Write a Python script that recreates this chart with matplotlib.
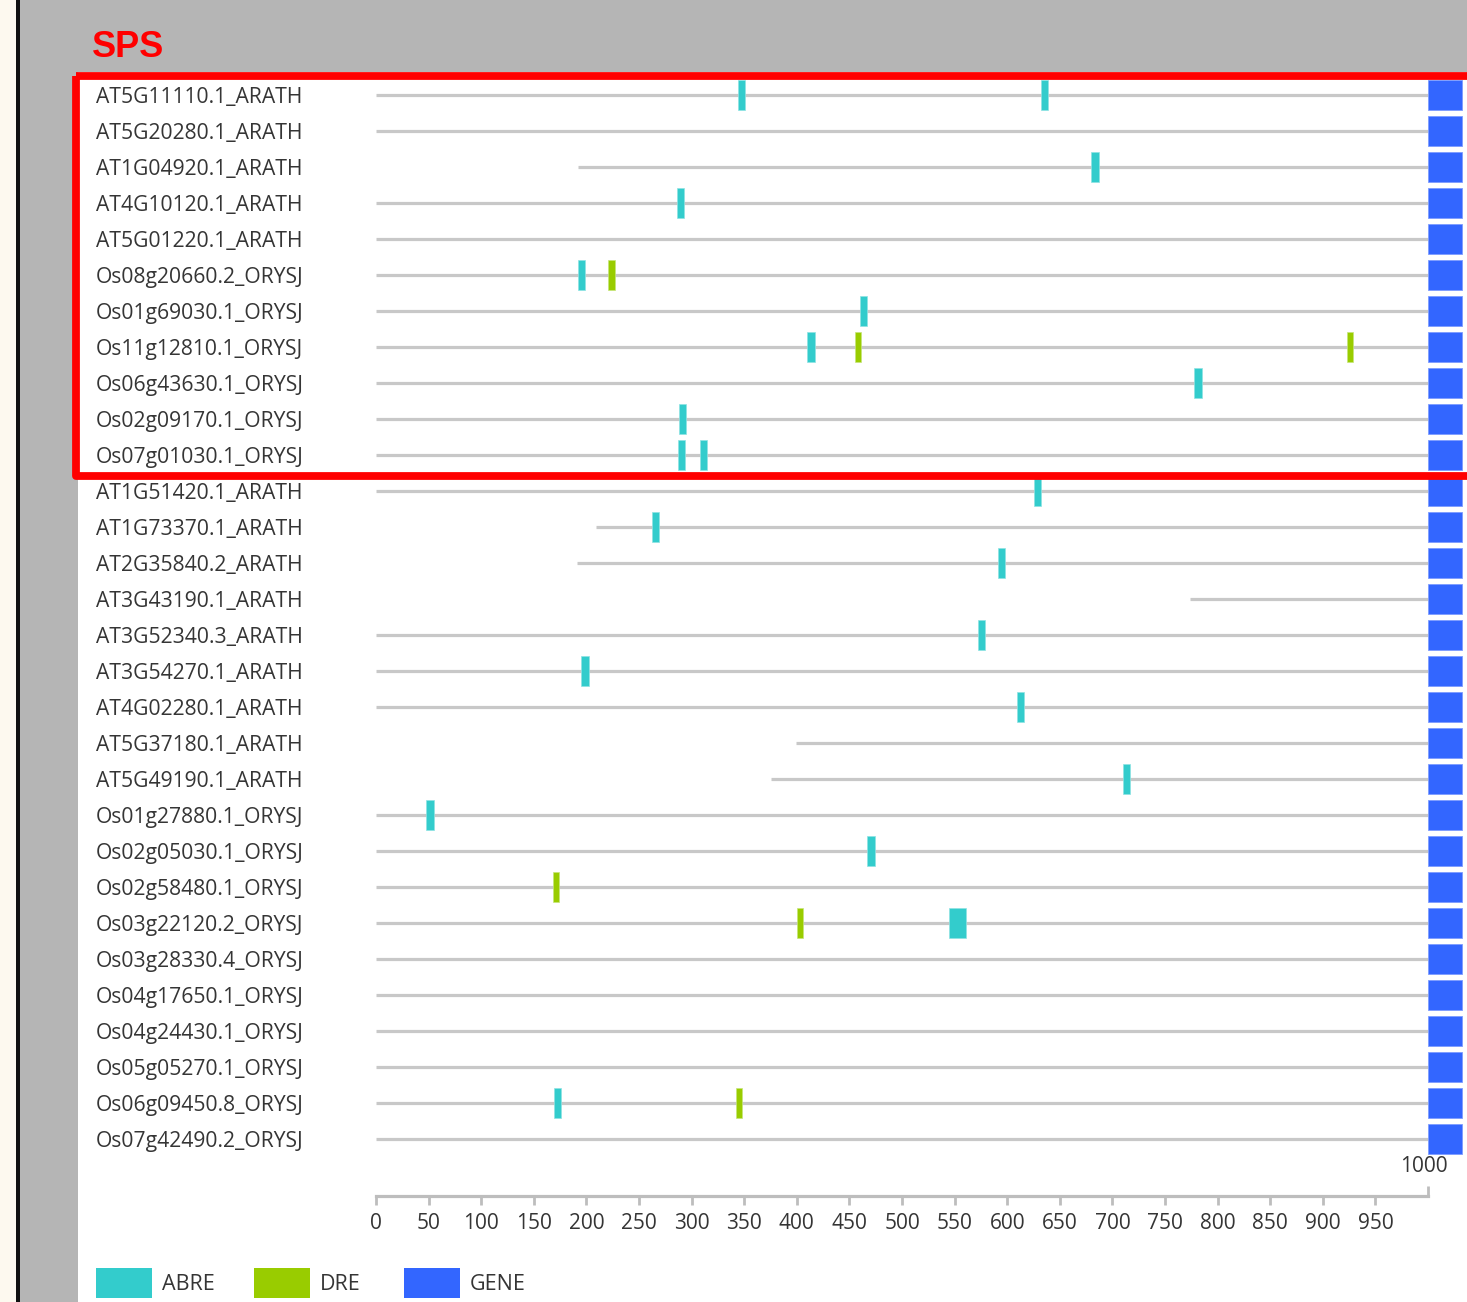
import matplotlib
matplotlib.use('Agg')
import matplotlib.pyplot as plt
from matplotlib.patches import Rectangle
from matplotlib.transforms import blended_transform_factory
import numpy as np

# ---------------- data ----------------
genes = ["AT5G11110.1_ARATH", "AT5G20280.1_ARATH", "AT1G04920.1_ARATH", "AT4G10120.1_ARATH",
         "AT5G01220.1_ARATH", "Os08g20660.2_ORYSJ", "Os01g69030.1_ORYSJ", "Os11g12810.1_ORYSJ",
         "Os06g43630.1_ORYSJ", "Os02g09170.1_ORYSJ", "Os07g01030.1_ORYSJ", "AT1G51420.1_ARATH",
         "AT1G73370.1_ARATH", "AT2G35840.2_ARATH", "AT3G43190.1_ARATH", "AT3G52340.3_ARATH",
         "AT3G54270.1_ARATH", "AT4G02280.1_ARATH", "AT5G37180.1_ARATH", "AT5G49190.1_ARATH",
         "Os01g27880.1_ORYSJ", "Os02g05030.1_ORYSJ", "Os02g58480.1_ORYSJ", "Os03g22120.2_ORYSJ",
         "Os03g28330.4_ORYSJ", "Os04g17650.1_ORYSJ", "Os04g24430.1_ORYSJ", "Os05g05270.1_ORYSJ",
         "Os06g09450.8_ORYSJ", "Os07g42490.2_ORYSJ"]
promoter_start = [0, 0, 192, 0, 0, 0, 0, 0, 0, 0, 0, 0, 209, 191, 774,
                  0, 0, 0, 399, 375, 0, 0, 0, 0, 0, 0, 0, 0, 0, 0]
promoter_end = 1000

abre_row = [0, 0, 2, 3, 5, 6, 7, 8, 9, 10, 10, 11, 12, 13, 15, 16, 17, 19, 20, 21, 23, 28]
abre_pos = [344, 632, 680, 286, 192, 460, 410, 778, 288, 287, 308, 625, 262, 591, 572, 195, 609, 710, 48, 467, 545, 169]
abre_len = [7, 7, 7, 7, 7, 7, 7, 7, 7, 7, 7, 7, 7, 7, 7, 7, 7, 7, 7, 7, 16, 7]

dre_row = [5, 7, 7, 22, 23, 28]
dre_pos = [221, 455, 923, 168, 400, 342]
dre_len = [6, 6, 6, 6, 6, 6]

gene_len = 32
highlight_rows = (0, 10)
title = "SPS"
ticks = list(range(0, 1000, 50))
legend_labels = ["ABRE", "DRE", "GENE"]

# ---------------- style ----------------
ABRE_C = '#33CCCC'
DRE_C = '#99CC00'
GENE_C = '#3366FF'
LINE_C = '#C8C8C8'
TXT_C = '#353535'
FONT = ['Open Sans', 'DejaVu Sans']
plt.rcParams['font.family'] = FONT

W, H = 1467, 1302
fig = plt.figure(figsize=(W / 100, H / 100), dpi=100)
fig.patch.set_facecolor('white')


def fx(px):
    return px / W


def fy(py):
    return 1 - py / H


def add_rect(x0, y0, x1, y1, color, zorder=-10):
    fig.add_artist(Rectangle((fx(x0), fy(y1)), fx(x1) - fx(x0), fy(y0) - fy(y1),
                             transform=fig.transFigure, facecolor=color,
                             edgecolor='none', zorder=zorder))


# page background
add_rect(0, 0, 16, H, '#FDF9EF')
add_rect(16, 0, 20, H, '#111111')
add_rect(20, 0, 78, H, '#B5B5B5')
add_rect(20, 0, W, 72, '#B5B5B5')

# main track axes (pixel layout -> data units)
PXU = 1.052     # pixels per bp
X0PX = 376      # pixel of position 0
ROW0, ROWH = 95, 36
ax = fig.add_axes([fx(78), fy(1302), fx(1467) - fx(78), fy(72) - fy(1302)])
ax.set_xlim((78 - X0PX) / PXU, (1467 - X0PX) / PXU)
ax.set_ylim((1302 - ROW0) / ROWH, (72 - ROW0) / ROWH)
ax.axis('off')
ax.patch.set_alpha(0)

rows = np.arange(len(genes))
ax.hlines(rows, promoter_start, promoter_end, color=LINE_C, lw=2.3, zorder=1)
ax.barh(rows, gene_len, left=promoter_end, height=0.84, color=GENE_C,
        edgecolor='#7D9CFF', lw=0.6, zorder=2)
ax.barh(abre_row, abre_len, left=abre_pos, height=0.84, color=ABRE_C,
        edgecolor='#8FE3E3', lw=0.5, zorder=3)
ax.barh(dre_row, dre_len, left=dre_pos, height=0.84, color=DRE_C,
        edgecolor='#C6E57A', lw=0.5, zorder=3)

label_x = (96 - X0PX) / PXU
for r, g in zip(rows, genes):
    ax.text(label_x, r + 0.06, g, ha='left', va='center', fontsize=15.2, color=TXT_C, zorder=4)

# red highlight box
bx = (76 - X0PX) / PXU
r0, r1 = highlight_rows
box = Rectangle((bx, r0 - 0.53), 3000, (r1 - r0) + 1.1, fill=False, edgecolor='#FF0000',
                lw=5.6, joinstyle='round', clip_on=False, zorder=6)
ax.add_patch(box)

# title
fig.text(fx(92), fy(57), title, color='#FF0000', fontsize=26, fontweight='bold',
         family=['Liberation Sans', 'DejaVu Sans'], ha='left', va='baseline')

# scale axis
ax2 = fig.add_axes([fx(X0PX), fy(1196), fx(X0PX + 1000 * PXU) - fx(X0PX), 0.002])
ax2.set_xlim(0, 1000)
ax2.patch.set_alpha(0)
for s in ['top', 'left', 'right']:
    ax2.spines[s].set_visible(False)
ax2.spines['bottom'].set_color('#BDBDBD')
ax2.spines['bottom'].set_linewidth(2.3)
ax2.set_yticks([])
ax2.set_xticks(ticks)
ax2.set_xticklabels([str(t) for t in ticks])
ax2.tick_params(axis='x', direction='out', length=6.5, width=2, color='#BDBDBD',
                labelsize=15, labelcolor=TXT_C, pad=6)
tr = blended_transform_factory(ax2.transData, fig.transFigure)
ax2.plot([1000, 1000], [fy(1196), fy(1186)], color='#BDBDBD', lw=2, transform=tr,
         clip_on=False, solid_capstyle='butt')
ax2.text(996, fy(1166), '1000', transform=tr, ha='center', va='center',
         fontsize=15, color=TXT_C)

# legend
legend_colors = [ABRE_C, DRE_C, GENE_C]
sw_x = [96, 254, 404]
for x, c, lab in zip(sw_x, legend_colors, legend_labels):
    add_rect(x, 1268, x + 56, 1298, c, zorder=1)
    fig.text(fx(x + 66), fy(1284), lab, ha='left', va='center', fontsize=15.5, color=TXT_C)

fig.savefig('out.png', dpi=100)
